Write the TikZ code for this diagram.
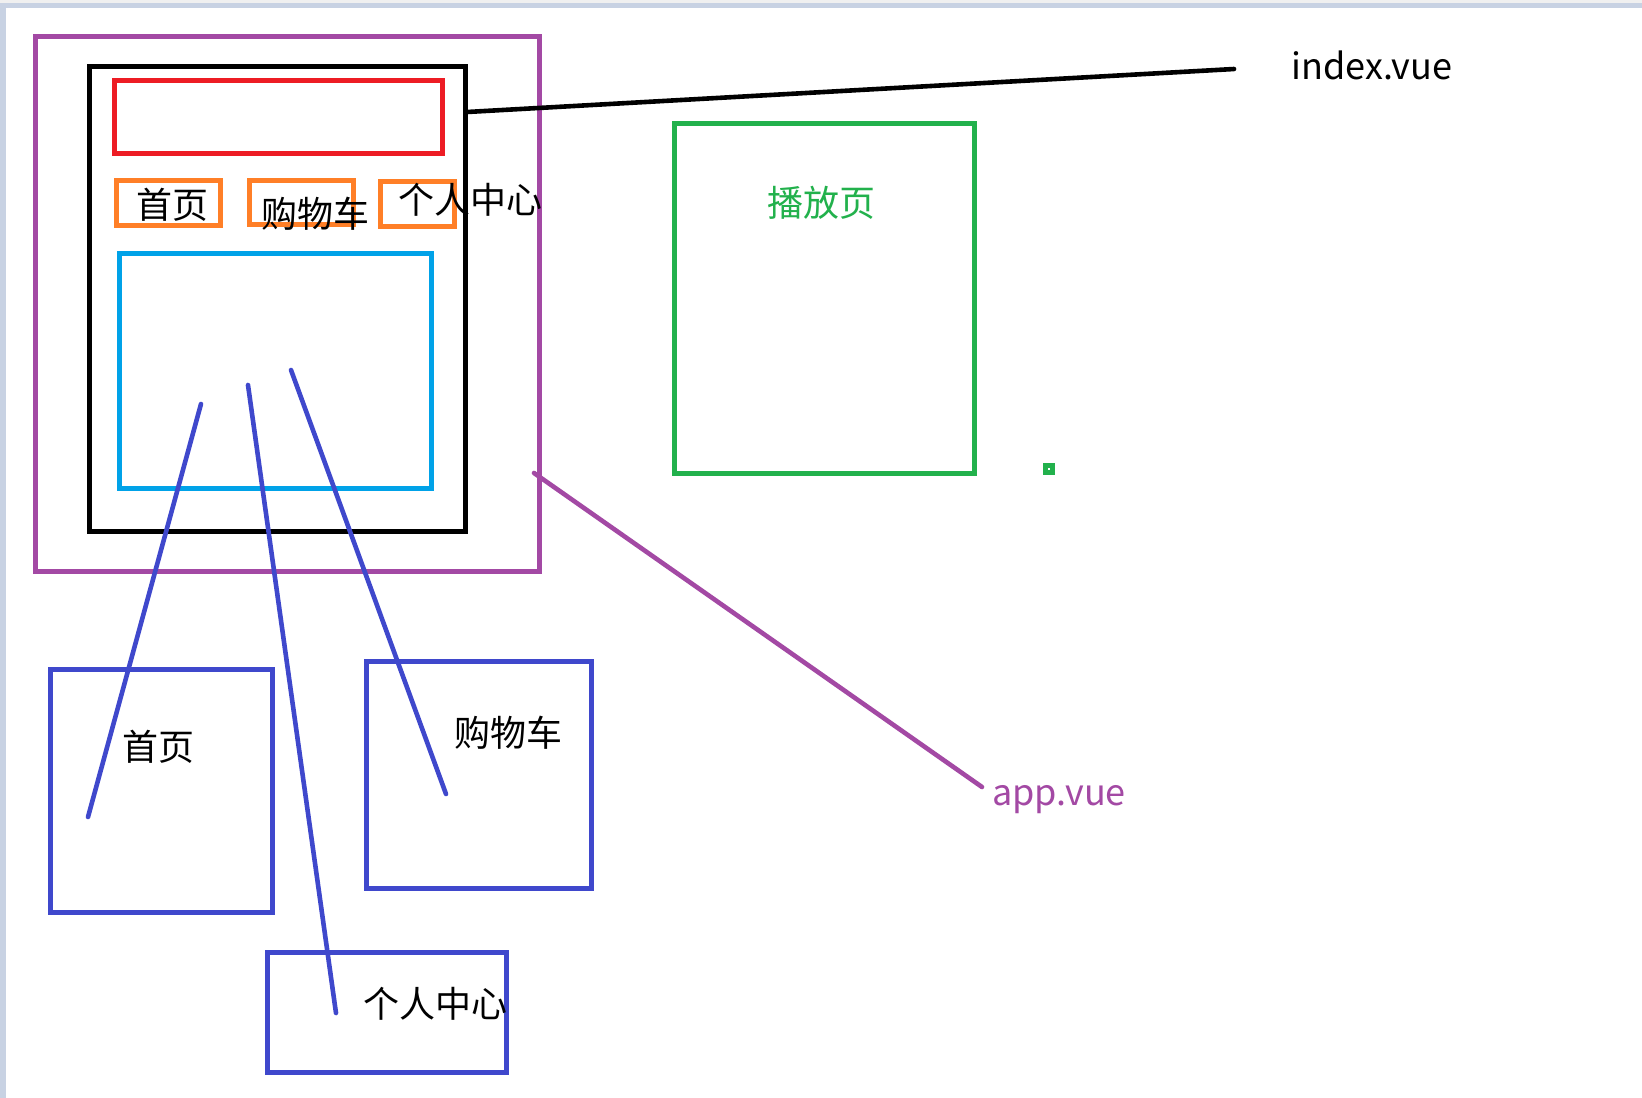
\documentclass[tikz,border=0pt]{standalone}
\usepackage{fontspec}
\setmainfont{Noto Sans CJK SC}
\definecolor{ppurple}{HTML}{A349A4}
\definecolor{pred}{HTML}{ED1C24}
\definecolor{porange}{HTML}{FF7F27}
\definecolor{pcyan}{HTML}{00A2E8}
\definecolor{pgreen}{HTML}{22B14C}
\definecolor{pblue}{HTML}{3F48CC}
\definecolor{pbar}{HTML}{C8D2E3}
\begin{document}
\begin{tikzpicture}[x=1pt,y=-1pt,
  box/.style={draw, rectangle, inner sep=0pt, outer sep=0pt, line width=5pt},
  lbl/.style={inner sep=0pt, font=\fontsize{36}{40}\selectfont},
  link/.style={line width=4.6pt, line cap=round}]
\useasboundingbox (0,0) rectangle (1642,1098);
\fill[white] (0,0) rectangle (1642,1098);
\fill[black!6] (0,0) rectangle (1642,3);
\fill[pbar] (0,3) rectangle (1642,8);
\fill[pbar] (0,3) rectangle (6,1098);
% boxes
\node[box, ppurple, minimum width=504pt, minimum height=535pt] (app) at (287,304) {};
\node[box, black, line width=5.5pt, minimum width=376pt, minimum height=465pt] (index) at (277.5,299) {};
\node[box, pred, minimum width=328pt, minimum height=73pt] (header) at (278.5,117) {};
\node[box, porange, minimum width=104pt, minimum height=45pt] (tab1) at (168.5,203) {};
\node[box, porange, minimum width=104pt, minimum height=44pt] (tab2) at (301.5,202.5) {};
\node[box, porange, minimum width=74pt, minimum height=45pt] (tab3) at (417.5,204) {};
\node[box, pcyan, minimum width=312pt, minimum height=235pt] (view) at (275,371) {};
\node[box, pgreen, minimum width=300pt, minimum height=350pt] (play) at (824,298) {};
\node[box, pblue, minimum width=222pt, minimum height=243pt] (home) at (161,790.5) {};
\node[box, pblue, minimum width=225pt, minimum height=227pt] (cart) at (478.5,774.5) {};
\node[box, pblue, minimum width=239pt, minimum height=120pt] (user) at (386.5,1012) {};
% small green mark
\node[fill=pgreen, minimum size=12pt, inner sep=0pt] (dot) at (1049,469) {};
\fill[white] (1048,468) rectangle (1050,470);
% texts
\node[lbl] (t1) at (172,205) {首页};
\node[lbl] (t2) at (315,214) {购物车};
\node[lbl] (t3) at (470,200) {个人中心};
\node[lbl] (idxlbl) at (1372,65) {index.vue};
\node[lbl, text=pgreen] (playlbl) at (821,203) {播放页};
\node[lbl, text=ppurple] (applbl) at (1059,800) {app.vue};
\node[lbl] (homelbl) at (158,747) {首页};
\node[lbl] (cartlbl) at (508,733) {购物车};
\node[lbl] (userlbl) at (435,1004) {个人中心};
% connectors
\coordinate (i0) at (467,112);
\coordinate (i1) at (1234,69);
\draw[link, black] (i0) -- (i1);
\coordinate (a0) at (534,473);
\coordinate (a1) at (982,787);
\draw[link, ppurple] (a0) -- (a1);
\coordinate (h0) at (201,404);
\coordinate (h1) at (88,817);
\draw[link, pblue] (h0) -- (h1);
\coordinate (u0) at (248,385);
\coordinate (u1) at (336,1013);
\draw[link, pblue] (u0) -- (u1);
\coordinate (c0) at (291,370);
\coordinate (c1) at (446,794);
\draw[link, pblue] (c0) -- (c1);
\end{tikzpicture}
\end{document}
